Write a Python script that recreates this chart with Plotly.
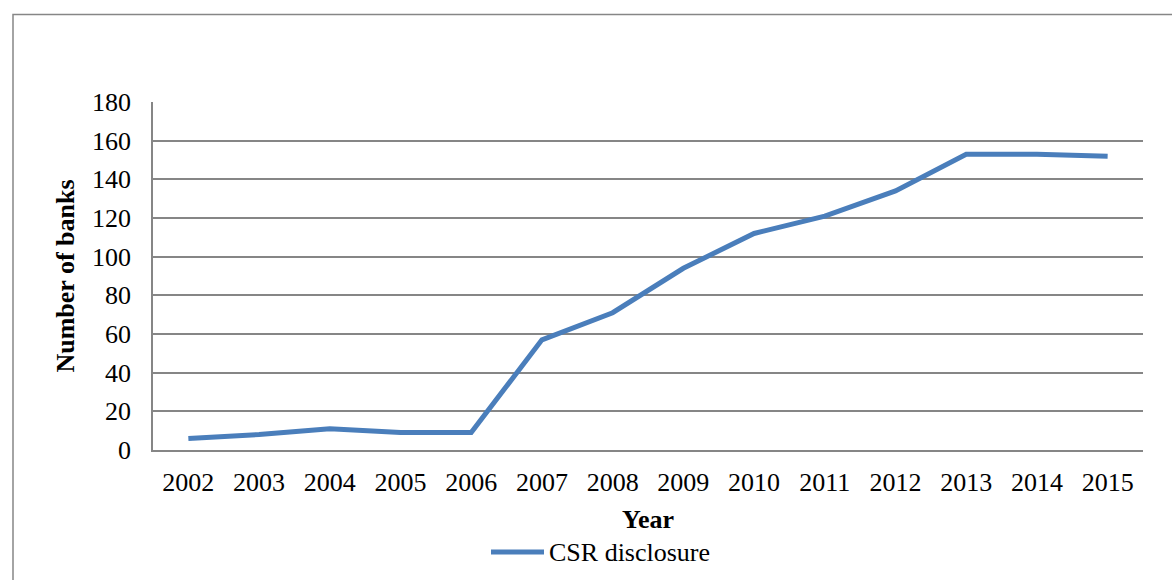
import plotly.graph_objects as go

years = ["2002", "2003", "2004", "2005", "2006", "2007", "2008", "2009",
         "2010", "2011", "2012", "2013", "2014", "2015"]
csr_disclosure = [6, 8, 11, 9, 9, 57, 71, 94, 112, 121, 134, 153, 153, 152]
y_ticks = [0, 20, 40, 60, 80, 100, 120, 140, 160, 180]
series_name = "CSR disclosure"

L, R, T, B = 153, 29, 102, 130
W, H = 1172, 580
pw, ph = W - L - R, H - T - B
LINE_COLOR = "#4A7EBB"
GRAY = "#868686"
FS = 26

def px_x(p):
    return (p - L) / pw

def px_y(p):
    return (H - B - p) / ph

fig = go.Figure()
fig.add_trace(go.Scatter(
    x=years, y=csr_disclosure, mode="lines", name=series_name,
    line=dict(color=LINE_COLOR, width=5), showlegend=False,
))

font_family = "Liberation Serif, Times New Roman, serif"
fig.update_layout(
    width=W, height=H,
    margin=dict(l=L, r=R, t=T, b=B, autoexpand=False),
    paper_bgcolor="white", plot_bgcolor="white",
    font=dict(family=font_family, size=FS, color="black"),
    xaxis=dict(
        type="category", range=[-0.5, 13.5],
        showgrid=False, showline=True, linecolor=GRAY, linewidth=1.5,
        ticks="", tickfont=dict(size=FS), ticklabelstandoff=8,
        title=dict(text="<b>Year</b>", font=dict(size=FS), standoff=14),
    ),
    yaxis=dict(
        range=[0, 180], tickvals=y_ticks,
        showgrid=True, gridcolor=GRAY, gridwidth=1.5,
        showline=True, linecolor=GRAY, linewidth=1.5,
        ticks="", tickfont=dict(size=FS), ticklabelstandoff=15,
        zeroline=False,
        title=dict(text="<b>Number of banks</b>", font=dict(size=FS), standoff=10),
    ),
    shapes=[
        dict(type="rect", xref="paper", yref="paper",
             x0=px_x(13), x1=px_x(1180), y0=px_y(590), y1=px_y(14.5),
             line=dict(color=GRAY, width=1.5), layer="below"),
        dict(type="line", xref="paper", yref="paper",
             x0=px_x(491), x1=px_x(544), y0=px_y(552), y1=px_y(552),
             line=dict(color=LINE_COLOR, width=5)),
    ],
    annotations=[
        dict(text=series_name, xref="paper", yref="paper",
             x=px_x(547), y=px_y(552), xanchor="left", yanchor="middle",
             showarrow=False, font=dict(size=FS)),
    ],
)

fig.write_html("out.html")
